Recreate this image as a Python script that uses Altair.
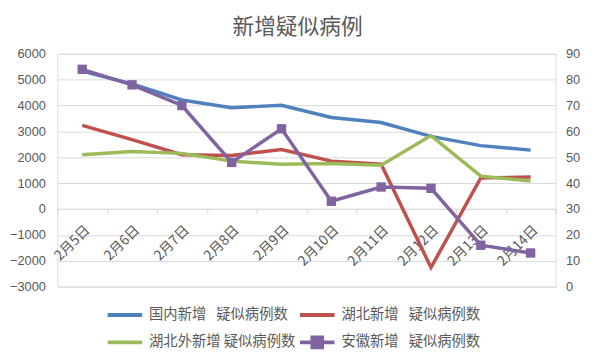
import altair as alt
import pandas as pd

dates = ["2月5日", "2月6日", "2月7日", "2月8日", "2月9日", "2月10日", "2月11日", "2月12日", "2月13日", "2月14日"]
s_names = ["国内新增\u2002\u2009疑似病例数", "湖北新增\u2002\u2009疑似病例数", "湖北外新增 疑似病例数", "安徽新增\u2002\u2009疑似病例数"]
colors = ["#4F81BD", "#C0504D", "#9BBB59", "#8064A2"]

national = [5328, 4833, 4214, 3916, 4008, 3536, 3342, 2807, 2450, 2277]
hubei = [3230, 2680, 2100, 2070, 2300, 1850, 1730, -2260, 1200, 1240]
outside = [2100, 2220, 2150, 1850, 1730, 1760, 1690, 2840, 1270, 1080]
anhui = [84, 78, 70, 48, 61, 33, 38.5, 38, 16, 13]

rows = []
for name, vals in zip(s_names[:3], [national, hubei, outside]):
    for d, v in zip(dates, vals):
        rows.append({"date": d, "series": name, "value": v})
left_df = pd.DataFrame(rows)
right_df = pd.DataFrame({"date": dates, "series": s_names[3], "value": anhui})

FONT_CJK = "Noto Sans CJK SC"
GREY = "#595959"
GRID = "#d9d9d9"
anhui_name = s_names[3]
is_anhui = "datum.value === '" + anhui_name + "'"

x_enc = alt.X(
    "date:N", sort=dates, bandPosition=0.5,
    scale=alt.Scale(type="band", paddingInner=0, paddingOuter=0),
    axis=alt.Axis(title=None, labelAngle=-45, offset=-78.7, tickBand="extent",
                  domainColor=GRID, tickColor=GRID, tickSize=5, grid=False,
                  labelFont=FONT_CJK, labelFontSize=14, labelColor=GREY, labelPadding=9),
)

color_enc = alt.Color(
    "series:N",
    scale=alt.Scale(domain=s_names, range=colors),
    legend=alt.Legend(
        title=None, orient="none", legendX=49, legendY=245, columns=2, direction="horizontal",
        symbolType=alt.ExprRef(expr=is_anhui + " ? 'M-1,0H1M-0.28,-0.28H0.28V0.28H-0.28Z' : 'stroke'"),
        symbolFillColor=alt.ExprRef(expr=is_anhui + " ? '#8064A2' : 'transparent'"),
        symbolSize=1225, symbolStrokeWidth=4, labelFont=FONT_CJK,
        labelFontSize=14.5, labelColor=GREY, labelOffset=5, columnPadding=-4, rowPadding=-11,
        padding=0, labelLimit=300,
    ),
)

left = alt.Chart(left_df).mark_line(strokeWidth=3.5).encode(
    x=x_enc,
    y=alt.Y("value:Q", scale=alt.Scale(domain=[-3000, 6000], nice=False),
            axis=alt.Axis(title=None, values=list(range(-3000, 6001, 1000)), format="d", grid=True,
                          gridColor=GRID, domain=False, ticks=False, labelFont="Liberation Sans",
                          labelFontSize=13, labelColor=GREY, labelPadding=12)),
    color=color_enc,
    order=alt.Order("series:N"),
    detail="series:N",
)

right = alt.Chart(right_df).mark_line(
    strokeWidth=3.5,
    point=alt.OverlayMarkDef(shape="square", size=90, filled=True, color="#8064A2", opacity=1),
).encode(
    x=x_enc,
    y=alt.Y("value:Q", scale=alt.Scale(domain=[0, 90], nice=False),
            axis=alt.Axis(title=None, orient="right", values=list(range(0, 91, 10)), grid=False,
                          domain=False, ticks=False, labelFont="Liberation Sans", labelFontSize=13,
                          labelColor=GREY, labelPadding=10)),
    color=color_enc,
)

chart = alt.layer(left, right).resolve_scale(y="independent").properties(
    width=505, height=236,
    autosize=alt.AutoSizeParams(type="none"),
    padding={"left": 50, "top": 44, "right": 39, "bottom": 74},
    title=alt.TitleParams("新增疑似病例", fontSize=22, color=GREY, font=FONT_CJK, fontWeight="normal",
                          anchor="middle", offset=9, dx=-9),
).configure_view(stroke=None).configure(background="white")

chart.save("out.html", embed_options={"renderer": "svg", "actions": False})
